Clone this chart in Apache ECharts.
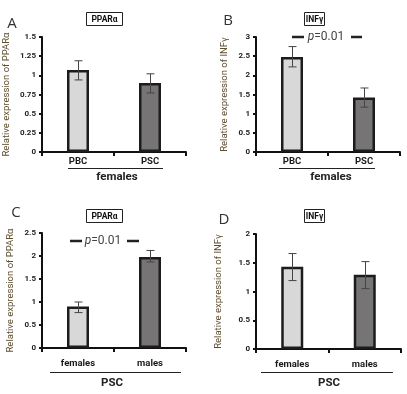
<!DOCTYPE html>
<html><head><meta charset="utf-8">
<script src="https://cdn.jsdelivr.net/npm/echarts@6/dist/echarts.min.js"></script>
<style>html,body{margin:0;padding:0;background:#fff}#c{width:407px;height:394px}</style>
</head><body><div id="c"></div>
<script>
// Panel A: PPARα, females
const catsA = ['PBC', 'PSC'];
const valsA = [1.07, 0.90];
const errLowA = [0.94, 0.77];
const errHighA = [1.19, 1.02];
const ticksA = {min: 0, max: 1.5, interval: 0.25};
// Panel B: INFγ, females
const catsB = ['PBC', 'PSC'];
const valsB = [2.48, 1.42];
const errLowB = [2.22, 1.17];
const errHighB = [2.75, 1.67];
const ticksB = {min: 0, max: 3, interval: 0.5};
// Panel C: PPARα, PSC
const catsC = ['females', 'males'];
const valsC = [0.90, 1.98];
const errLowC = [0.77, 1.87];
const errHighC = [1.00, 2.12];
const ticksC = {min: 0, max: 2.5, interval: 0.5};
// Panel D: INFγ, PSC
const catsD = ['females', 'males'];
const valsD = [1.43, 1.29];
const errLowD = [1.19, 1.05];
const errHighD = [1.66, 1.52];
const ticksD = {min: 0, max: 2, interval: 0.5};

const yNames = ['Relative expression of PPARα', 'Relative expression of INFγ', 'Relative expression of PPARα', 'Relative expression of INFγ'];
const panelTitles = ['PPARα', 'INFγ', 'PPARα', 'INFγ'];
const panelLetters = ['A', 'B', 'C', 'D'];
const groupLabels = ['females', 'females', 'PSC', 'PSC'];

const panels = [
  {cats: catsA, vals: valsA, lo: errLowA, hi: errHighA, t: ticksA},
  {cats: catsB, vals: valsB, lo: errLowB, hi: errHighB, t: ticksB},
  {cats: catsC, vals: valsC, lo: errLowC, hi: errHighC, t: ticksC},
  {cats: catsD, vals: valsD, lo: errLowD, hi: errHighD, t: ticksD}
];

const grids = [
  {left: 42, top: 37, width: 144, height: 115},
  {left: 256, top: 37, width: 144, height: 115},
  {left: 42, top: 233, width: 144, height: 115},
  {left: 256, top: 234, width: 145, height: 115}
];
const nameGaps = [30, 26, 26, 32];
const labelMargins = [5, 5, 11, 11];
const FONT = 'Roboto, sans-serif';
const lightFill = '#d9d8d8';
const darkFill = '#767475';

const xAxes = [], yAxes = [], series = [];
panels.forEach((p, i) => {
  xAxes.push({
    gridIndex: i, type: 'category', data: p.cats,
    axisLine: {lineStyle: {color: '#111', width: 2}},
    axisTick: {show: true, length: 4, lineStyle: {color: '#111', width: 2}},
    axisLabel: {color: '#1a1a1a', fontFamily: FONT, fontSize: 9.5, fontWeight: 'bold', margin: labelMargins[i]}
  });
  yAxes.push({
    gridIndex: i, type: 'value', min: p.t.min, max: p.t.max, interval: p.t.interval,
    name: yNames[i], nameLocation: 'middle', nameRotate: 90, nameGap: nameGaps[i],
    nameTextStyle: {color: '#5e4e30', fontFamily: FONT, fontSize: 9.5},
    axisLine: {show: true, lineStyle: {color: '#111', width: 2}},
    axisTick: {show: true, length: 3, lineStyle: {color: '#111', width: 2}},
    splitLine: {show: false},
    axisLabel: {color: '#222', fontFamily: FONT, fontSize: 8, fontWeight: 'bold', margin: 6}
  });
  series.push({
    type: 'bar', xAxisIndex: i, yAxisIndex: i, barWidth: 22,
    data: p.vals.map((v, k) => ({value: v, itemStyle: {color: k === 0 ? lightFill : darkFill}})),
    itemStyle: {borderColor: '#1c1c1c', borderWidth: 2.5},
    silent: true
  });
  series.push({
    type: 'custom', xAxisIndex: i, yAxisIndex: i, silent: true, z: 5,
    data: p.cats.map((c, k) => [k, p.lo[k], p.hi[k]]),
    renderItem: function (params, api) {
      const lo = api.coord([api.value(0), api.value(1)]);
      const hi = api.coord([api.value(0), api.value(2)]);
      const x = Math.round(lo[0]) + 0.5, w = 4;
      const st = {stroke: '#444', lineWidth: 1};
      return {type: 'group', children: [
        {type: 'line', shape: {x1: x, y1: lo[1], x2: x, y2: hi[1]}, style: st},
        {type: 'line', shape: {x1: x - w, y1: hi[1], x2: x + w, y2: hi[1]}, style: st},
        {type: 'line', shape: {x1: x - w, y1: lo[1], x2: x + w, y2: lo[1]}, style: st}
      ]};
    }
  });
});

const graphic = [];
// title boxes
const boxes = [[86, 12, 36, 13], [304, 12, 20, 13], [86, 209, 36, 13], [304, 209, 20, 13]];
boxes.forEach((b, i) => {
  graphic.push({type: 'rect', shape: {x: b[0] + 0.5, y: b[1] + 0.5, width: b[2], height: b[3]}, style: {fill: '#fff', stroke: '#222', lineWidth: 1}});
  graphic.push({type: 'text', x: b[0] + b[2] / 2 + 0.5, y: b[1] + b[3] / 2 + 1, style: {text: panelTitles[i], fill: '#111', font: 'bold 8.5px ' + FONT, align: 'center', verticalAlign: 'middle'}});
});
// panel letters
const letters = [[12, 24], [228, 21], [16, 213], [224, 220]];
letters.forEach((l, i) => {
  graphic.push({type: 'text', x: l[0], y: l[1], style: {text: panelLetters[i], fill: '#333', font: '15px Open Sans, sans-serif', align: 'center', verticalAlign: 'middle'}});
});
// group lines and labels
const gLines = [[68, 163, 168], [279, 375, 168], [50, 181, 372], [261, 393, 372]];
const gLabels = [[117, 177], [331, 177], [112, 383], [329, 383]];
gLines.forEach((g, i) => {
  graphic.push({type: 'line', shape: {x1: g[0], y1: g[2] + 0.5, x2: g[1], y2: g[2] + 0.5}, style: {stroke: '#222', lineWidth: 1}});
  graphic.push({type: 'text', x: gLabels[i][0], y: gLabels[i][1], style: {text: groupLabels[i], fill: '#222', font: 'bold 11.5px ' + FONT, align: 'center', verticalAlign: 'middle'}});
});
// p-value annotations
const pAnn = [{d1: [292, 304], d2: [351, 362], tx: 326, y: 37}, {d1: [70, 82], d2: [127, 139], tx: 103, y: 241}];
pAnn.forEach(a => {
  graphic.push({type: 'line', shape: {x1: a.d1[0], y1: a.y, x2: a.d1[1], y2: a.y}, style: {stroke: '#222', lineWidth: 2.5}});
  graphic.push({type: 'line', shape: {x1: a.d2[0], y1: a.y, x2: a.d2[1], y2: a.y}, style: {stroke: '#222', lineWidth: 2.5}});
  graphic.push({type: 'text', x: a.tx, y: a.y, style: {
    text: '{i|p}{n|=0.01}', align: 'center', verticalAlign: 'middle',
    rich: {i: {font: 'italic 12px ' + FONT, fill: '#444'}, n: {font: '12px ' + FONT, fill: '#444'}}
  }});
});

const chart = echarts.init(document.getElementById('c'), null, {renderer: 'canvas'});
chart.setOption({
  animation: false,
  backgroundColor: '#fff',
  grid: grids,
  xAxis: xAxes,
  yAxis: yAxes,
  series: series,
  graphic: graphic
});
</script>
</body></html>
